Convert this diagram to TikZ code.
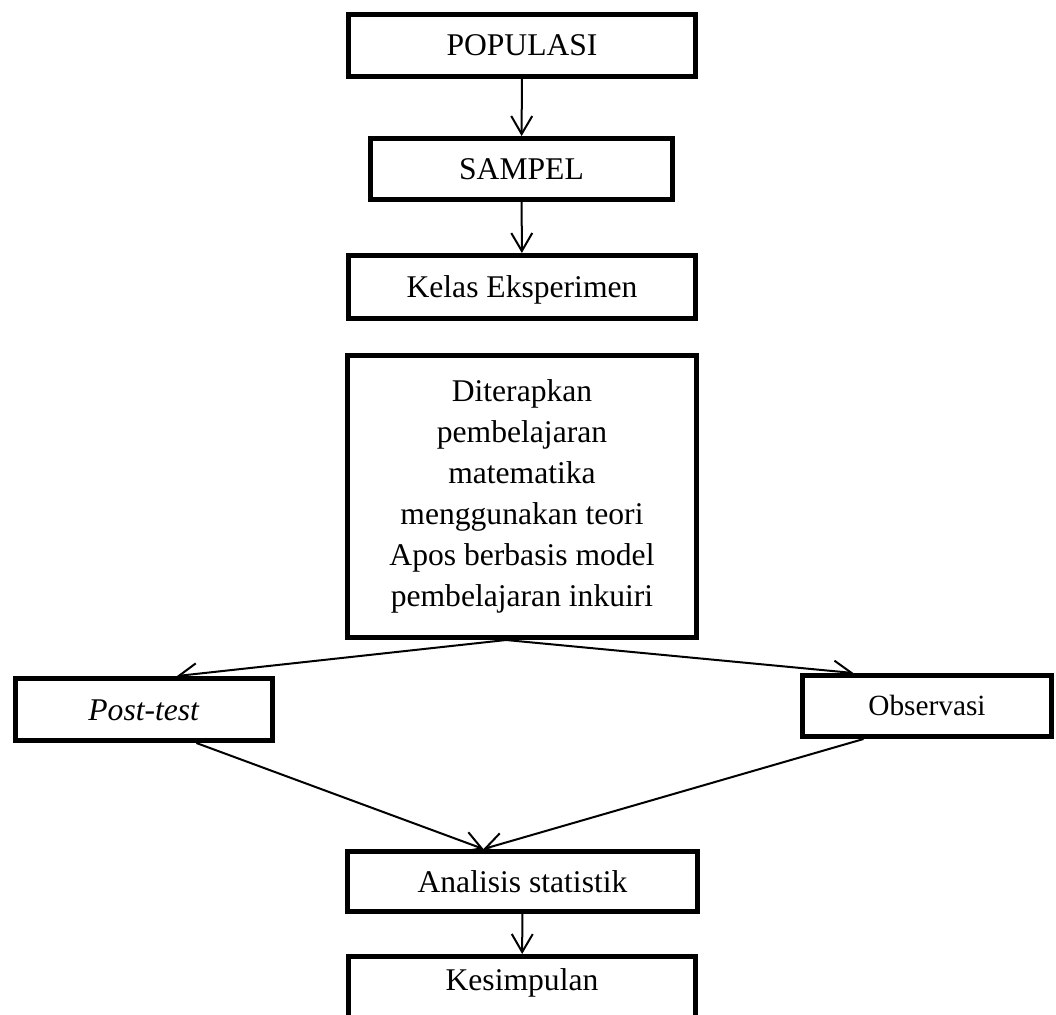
\documentclass[tikz,border=0pt]{standalone}
\usepackage{fontspec}
\setmainfont{Liberation Serif}
\usetikzlibrary{arrows.meta,calc,backgrounds}
\begin{document}
\begin{tikzpicture}[x=1pt,y=-1pt,
  box/.style={draw,line width=5pt,fill=white,inner sep=0pt,align=center,
    font=\fontsize{31.6}{41}\selectfont},
  one/.style={text height=21pt,text depth=0pt},
  conn/.style={line width=2pt,-{Straight Barb[length=18pt,width=21pt]}}]
\clip (0,0) rectangle (1056,1014);
\node[box,one,minimum width=347pt,minimum height=62pt] (pop) at (522,45.5) {POPULASI};
\node[box,one,minimum width=302pt,minimum height=61pt] (samp) at (521.5,169) {SAMPEL};
\node[box,one,minimum width=347pt,minimum height=63pt] (kelas) at (522,287) {Kelas Eksperimen};
\node[box,minimum width=349pt,minimum height=282pt] (big) at (522,496.5)
  {Diterapkan\\pembelajaran\\matematika\\menggunakan teori\\Apos berbasis model\\pembelajaran inkuiri};
\node[box,one,minimum width=257pt,minimum height=62pt] (post) at (144,709.5) {\textit{Post-test}};
\node[box,one,minimum width=249pt,minimum height=61pt,font=\fontsize{29.3}{36}\selectfont,text height=19.5pt] (obs) at (927,706) {Observasi};
\node[box,one,minimum width=350pt,minimum height=60pt] (anal) at (522.5,881.5) {Analisis statistik};
\node[box,minimum width=347pt,text height=33.5pt,text depth=31pt] (kes) at (522,988.75) {Kesimpulan};
\begin{pgfonlayer}{background}
\fill[white] (0,0) rectangle (1056,1014);
\draw[conn] (pop) -- (samp);
\draw[conn] (samp) -- (kelas);
\coordinate (bigout) at ($(big.south west)!0.455!(big.south east)$);
\draw[conn] (bigout) -- ($(post.north west)!0.626!(post.north east)$);
\draw[conn] (bigout) -- ($(obs.north west)!0.21!(obs.north east)$);
\coordinate (analin) at ($(anal.north west)!0.39!(anal.north east)$);
\draw[conn] ($(post.south west)!0.70!(post.south east)$) -- (analin);
\draw[conn] ($(obs.south west)!0.25!(obs.south east)$) -- (analin);
\draw[conn] (anal) -- (kes);
\end{pgfonlayer}
\end{tikzpicture}
\end{document}
